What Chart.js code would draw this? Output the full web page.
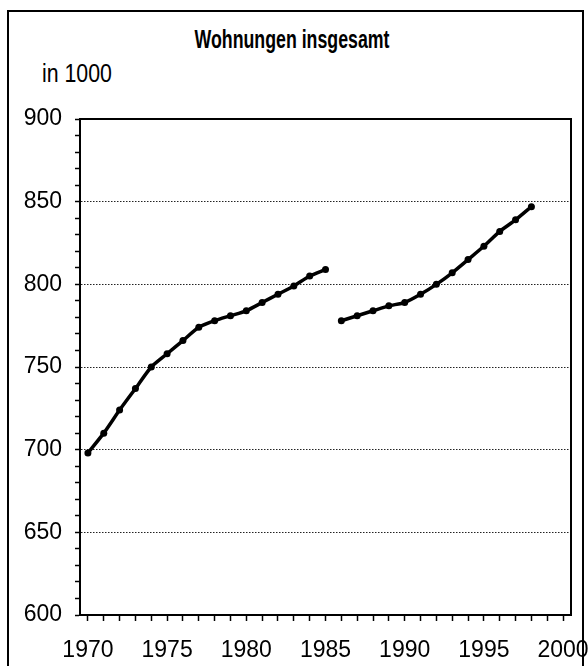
<!DOCTYPE html>
<html>
<head>
<meta charset="utf-8">
<script src="https://cdn.jsdelivr.net/npm/chart.js@4/dist/chart.umd.min.js"></script>
<style>
  html, body { margin: 0; padding: 0; background: #fff; overflow: hidden; }
  body { width: 588px; height: 666px; position: relative; }
  #frame { position: absolute; left: 7px; top: 10px; width: 577px; height: 700px; border: 2px solid #000; box-sizing: border-box; }
  .txt { position: absolute; font-family: 'Liberation Sans', Arial, sans-serif; line-height: 1; color: #000; white-space: nowrap; }
  #title { left: 0; width: 584px; text-align: center; top: 27px; font-size: 25px; font-weight: bold; transform: scaleX(0.71); transform-origin: 292px 50%; }
  #unit { left: 42px; top: 60px; font-size: 26px; transform: scaleX(0.82); transform-origin: 0 50%; }
  #chart { position: absolute; left: 0; top: 0; }
</style>
</head>
<body>
<div id="frame"></div>
<div id="title" class="txt">Wohnungen insgesamt</div>
<div id="unit" class="txt">in 1000</div>
<canvas id="chart" width="588" height="666"></canvas>
<script>
const years = [];
for (let y = 1970; y <= 2000; y++) years.push(String(y));

// Wohnungen, in 1000
const years1 = [1970, 1971, 1972, 1973, 1974, 1975, 1976, 1977, 1978, 1979, 1980, 1981, 1982, 1983, 1984, 1985];
const values1 = [698, 710, 724, 737, 750, 758, 766, 774, 778, 781, 784, 789, 794, 799, 805, 809];
const years2 = [1986, 1987, 1988, 1989, 1990, 1991, 1992, 1993, 1994, 1995, 1996, 1997, 1998];
const values2 = [778, 781, 784, 787, 789, 794, 800, 807, 815, 823, 832, 839, 847];

const yMin = 600, yMax = 900, yStep = 10;

const FONT = "'Liberation Sans', Arial, sans-serif";

function toSeries(ys, vals) {
    return years.map(label => {
        const i = ys.indexOf(+label);
        return i === -1 ? null : vals[i];
    });
}

// box around the plot area (top + right edges)
const plotBox = {
    id: 'plotBox',
    afterDatasetsDraw(chart) {
        const a = chart.chartArea;
        const c = chart.ctx;
        c.save();
        c.strokeStyle = '#000';
        c.lineWidth = 2;
        c.strokeRect(a.left, a.top, a.right - a.left, a.bottom - a.top);
        c.restore();
    }
};

const lineStyle = {
    borderColor: '#000',
    backgroundColor: '#000',
    borderWidth: 3.5,
    pointRadius: 3.5,
    pointBackgroundColor: '#000',
    pointBorderWidth: 0,
    tension: 0.2,
    spanGaps: false,
    fill: false
};

new Chart(document.getElementById('chart'), {
    type: 'line',
    data: {
        labels: years,
        datasets: [
            { ...lineStyle, label: '1970-1985', data: toSeries(years1, values1) },
            { ...lineStyle, label: '1986-1998', data: toSeries(years2, values2) }
        ]
    },
    plugins: [plotBox],
    options: {
        responsive: false,
        animation: false,
        devicePixelRatio: 1,
        layout: { padding: { left: 20, right: 17, top: 119, bottom: 0 } },
        plugins: {
            legend: { display: false },
            tooltip: { enabled: false },
            title: { display: false }
        },
        scales: {
            x: {
                type: 'category',
                offset: true,
                afterFit: s => { s.height = 51; s.paddingLeft = 0; s.paddingRight = 0; },
                grid: {
                    drawOnChartArea: false,
                    drawTicks: true,
                    tickLength: 6,
                    tickColor: '#000',
                    tickWidth: 1.5
                },
                border: { color: '#000', width: 2 },
                ticks: {
                    autoSkip: false,
                    maxRotation: 0,
                    padding: 16,
                    color: '#000',
                    font: { family: FONT, size: 23 },
                    callback: function (val) {
                        const l = this.getLabelForValue(val);
                        return +l % 5 === 0 ? l : '';
                    }
                }
            },
            y: {
                min: yMin,
                max: yMax,
                afterFit: s => { s.width = 60; s.paddingTop = 0; s.paddingBottom = 0; },
                grid: {
                    color: ctx => {
                        const v = ctx.tick ? ctx.tick.value : 0;
                        return (v % 50 === 0 && v !== yMin && v !== yMax) ? '#222' : 'rgba(0,0,0,0)';
                    },
                    lineWidth: 1,
                    tickLength: 5,
                    tickColor: '#000',
                    tickWidth: 1.5
                },
                border: { color: '#000', width: 2, dash: [1.5, 1.5] },
                ticks: {
                    stepSize: yStep,
                    autoSkip: false,
                    padding: 13,
                    color: '#000',
                    font: { family: FONT, size: 23 },
                    callback: v => (v % 50 === 0 ? v : '')
                }
            }
        }
    }
});
</script>
</body>
</html>
